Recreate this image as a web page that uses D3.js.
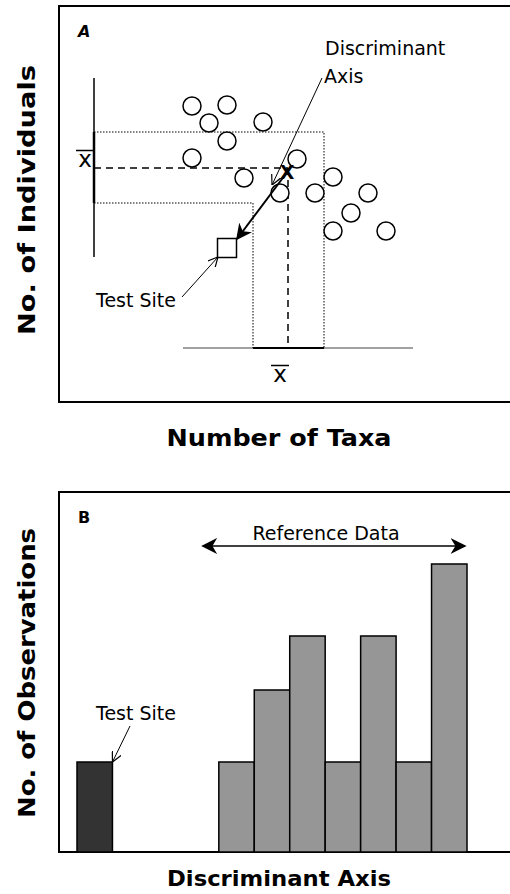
<!DOCTYPE html>
<html>
<head>
<meta charset="utf-8">
<script src="https://cdn.jsdelivr.net/npm/d3@7"></script>
<style>
  body { margin: 0; background: #fff; }
  svg text { font-family: "Comic Sans MS", "DejaVu Sans", sans-serif; }
</style>
</head>
<body>
<svg width="510" height="894"></svg>
<script>
// Panel A: sites (taxa, individuals), arbitrary units
const siteTaxa = [13.3, 16.8, 15.0, 20.4, 16.8, 13.3, 23.8, 18.5, 27.4, 22.1, 25.6, 30.9, 29.2, 27.4, 32.7];
const siteInd  = [29.6, 29.7, 27.9, 28.0, 26.1, 24.4, 24.3, 22.4, 22.5, 20.9, 20.9, 20.9, 18.9, 17.1, 17.1];
const meanTaxa = 22.9, meanInd = 23.4;
const taxaBand = [19.4, 26.5], indBand = [19.9, 27.0];
const testTaxa = 16.8, testInd = 15.4;

// Panel B: histogram along discriminant axis
const bins = ["b0","b1","b2","b3","b4","b5","b6","b7","b8","b9","b10"];
const testCounts = [5, 0, 0, 0, 0, 0, 0, 0, 0, 0, 0];
const refCounts  = [0, 0, 0, 0, 5, 9, 12, 5, 12, 5, 16];

window.onload = () => {
  const svg = d3.select("svg");

  const defs = svg.append("defs");
  defs.append("marker").attr("id", "open")
    .attr("viewBox", "0 0 10 10").attr("refX", 10).attr("refY", 5)
    .attr("markerWidth", 10).attr("markerHeight", 10).attr("markerUnits", "userSpaceOnUse")
    .attr("orient", "auto")
    .append("path").attr("d", "M0,0 L10,5 L0,10").attr("fill", "none").attr("stroke", "#000").attr("stroke-width", 1.2);
  defs.append("marker").attr("id", "solid")
    .attr("viewBox", "0 0 10 10").attr("refX", 9).attr("refY", 5)
    .attr("markerWidth", 16).attr("markerHeight", 16).attr("markerUnits", "userSpaceOnUse")
    .attr("orient", "auto")
    .append("path").attr("d", "M0,0 L10,5 L0,10 L3,5 Z").attr("fill", "#000");
  defs.append("marker").attr("id", "solidRev")
    .attr("viewBox", "0 0 10 10").attr("refX", 1).attr("refY", 5)
    .attr("markerWidth", 16).attr("markerHeight", 16).attr("markerUnits", "userSpaceOnUse")
    .attr("orient", "auto")
    .append("path").attr("d", "M10,0 L0,5 L10,10 L7,5 Z").attr("fill", "#000");

  // ---------- Panel A ----------
  const xA = d3.scaleLinear().domain([0, 45]).range([59, 509]);
  const yA = d3.scaleLinear().domain([0, 39.6]).range([402, 6]);
  const gA = svg.append("g");

  gA.append("rect").attr("x", 59).attr("y", 6).attr("width", 480).attr("height", 396)
    .attr("fill", "none").attr("stroke", "#000").attr("stroke-width", 2);
  gA.append("text").attr("x", 78).attr("y", 37).text("A")
    .attr("font-weight", "bold").attr("font-style", "italic").attr("font-size", 16);

  // axes
  gA.append("line").attr("x1", xA(3.5)).attr("x2", xA(3.5)).attr("y1", yA(32.4)).attr("y2", yA(14.5))
    .attr("stroke", "#000").attr("stroke-width", 1.5);
  gA.append("line").attr("x1", xA(3.5)).attr("x2", xA(3.5)).attr("y1", yA(indBand[1])).attr("y2", yA(indBand[0]))
    .attr("stroke", "#000").attr("stroke-width", 2.5);
  gA.append("line").attr("x1", xA(12.4)).attr("x2", xA(35.4)).attr("y1", yA(5.4)).attr("y2", yA(5.4))
    .attr("stroke", "#444").attr("stroke-width", 1.2);
  gA.append("line").attr("x1", xA(taxaBand[0])).attr("x2", xA(taxaBand[1])).attr("y1", yA(5.4)).attr("y2", yA(5.4))
    .attr("stroke", "#000").attr("stroke-width", 2.2);

  // dotted L-shaped band
  const lpath = d3.path();
  lpath.moveTo(xA(3.5), yA(indBand[1]));
  lpath.lineTo(xA(taxaBand[1]), yA(indBand[1]));
  lpath.lineTo(xA(taxaBand[1]), yA(5.4));
  lpath.moveTo(xA(3.5), yA(indBand[0]));
  lpath.lineTo(xA(taxaBand[0]), yA(indBand[0]));
  lpath.lineTo(xA(taxaBand[0]), yA(5.4));
  gA.append("path").attr("d", lpath.toString()).attr("fill", "none")
    .attr("stroke", "#000").attr("stroke-width", 1).attr("stroke-dasharray", "1.5,1.5");

  // mean dashed lines
  gA.append("line").attr("x1", xA(3.5)).attr("x2", xA(meanTaxa)).attr("y1", yA(meanInd)).attr("y2", yA(meanInd))
    .attr("stroke", "#000").attr("stroke-width", 1.5).attr("stroke-dasharray", "7,5");
  gA.append("line").attr("x1", xA(meanTaxa)).attr("x2", xA(meanTaxa)).attr("y1", yA(meanInd)).attr("y2", yA(5.4))
    .attr("stroke", "#000").attr("stroke-width", 1.5).attr("stroke-dasharray", "7,5");

  // x-bar labels
  const xbar = (x, y) => {
    gA.append("text").attr("x", x).attr("y", y).attr("text-anchor", "middle")
      .attr("font-size", 23).text("x");
    gA.append("line").attr("x1", x - 9).attr("x2", x + 9).attr("y1", y - 16.5).attr("y2", y - 16.5)
      .attr("stroke", "#000").attr("stroke-width", 1.5);
  };
  xbar(xA(2.6), yA(23.5));
  xbar(xA(22.1), yA(2.0));

  // sites
  gA.selectAll("circle.site").data(siteTaxa).enter().append("circle")
    .attr("class", "site")
    .attr("cx", d => xA(d)).attr("cy", (d, i) => yA(siteInd[i])).attr("r", 9)
    .attr("fill", "#fff").attr("stroke", "#000").attr("stroke-width", 1.5);

  // test site square
  gA.append("rect").attr("x", xA(testTaxa) - 9.5).attr("y", yA(testInd) - 9.5)
    .attr("width", 19).attr("height", 19).attr("fill", "#fff").attr("stroke", "#000").attr("stroke-width", 1.5);

  // discriminant axis pointer
  gA.append("line").attr("x1", xA(26.3)).attr("y1", yA(32.4)).attr("x2", xA(21.3)).attr("y2", yA(21.7))
    .attr("stroke", "#000").attr("stroke-width", 1).attr("marker-end", "url(#open)");
  gA.append("text").attr("x", 325).attr("y", 55).attr("font-size", 19).text("Discriminant");
  gA.append("text").attr("x", 324).attr("y", 83).attr("font-size", 19).text("Axis");

  // thick arrow from centroid to test site
  gA.append("line").attr("x1", xA(meanTaxa)).attr("y1", yA(meanInd) + 3)
    .attr("x2", xA(testTaxa) + 10).attr("y2", yA(testInd) - 9)
    .attr("stroke", "#000").attr("stroke-width", 2).attr("marker-end", "url(#solid)");
  gA.append("text").attr("x", xA(meanTaxa) - 1).attr("y", yA(meanInd) + 11).attr("text-anchor", "middle")
    .attr("font-size", 19).attr("font-weight", "bold").text("X");

  // test site label
  gA.append("text").attr("x", 96).attr("y", 307).attr("font-size", 19).text("Test Site");
  gA.append("line").attr("x1", 182).attr("y1", 297).attr("x2", xA(testTaxa) - 9).attr("y2", yA(testInd) + 9)
    .attr("stroke", "#000").attr("stroke-width", 1).attr("marker-end", "url(#open)");

  gA.append("text").attr("transform", "translate(35,200) rotate(-90)").attr("text-anchor", "middle")
    .attr("font-size", 23).attr("font-weight", "bold")
    .attr("textLength", 270).attr("lengthAdjust", "spacingAndGlyphs").text("No. of Individuals");
  gA.append("text").attr("x", 279).attr("y", 446).attr("text-anchor", "middle")
    .attr("font-size", 23).attr("font-weight", "bold")
    .attr("textLength", 225).attr("lengthAdjust", "spacingAndGlyphs").text("Number of Taxa");

  // ---------- Panel B ----------
  const xB = d3.scaleBand().domain(bins).range([77, 467]).paddingInner(0);
  const yB = d3.scaleLinear().domain([0, 20]).range([852, 492]);
  const gB = svg.append("g");

  gB.append("rect").attr("x", 59).attr("y", 492).attr("width", 480).attr("height", 360)
    .attr("fill", "none").attr("stroke", "#000").attr("stroke-width", 2);
  gB.append("text").attr("x", 78).attr("y", 523).text("B")
    .attr("font-weight", "bold").attr("font-size", 16);

  gB.selectAll("rect.ref").data(bins.filter((b, i) => refCounts[i] > 0)).enter().append("rect")
    .attr("class", "ref")
    .attr("x", d => xB(d)).attr("width", xB.bandwidth())
    .attr("y", d => yB(refCounts[bins.indexOf(d)]))
    .attr("height", d => yB(0) - yB(refCounts[bins.indexOf(d)]))
    .attr("fill", "#969696").attr("stroke", "#000").attr("stroke-width", 1.5);
  gB.selectAll("rect.test").data(bins.filter((b, i) => testCounts[i] > 0)).enter().append("rect")
    .attr("class", "test")
    .attr("x", d => xB(d)).attr("width", xB.bandwidth())
    .attr("y", d => yB(testCounts[bins.indexOf(d)]))
    .attr("height", d => yB(0) - yB(testCounts[bins.indexOf(d)]))
    .attr("fill", "#333333").attr("stroke", "#000").attr("stroke-width", 1.5);

  // reference data span
  const refStart = xB("b4"), refEnd = xB("b10") + xB.bandwidth();
  gB.append("line").attr("x1", refStart - 16).attr("x2", refEnd - 2).attr("y1", yB(17)).attr("y2", yB(17))
    .attr("stroke", "#000").attr("stroke-width", 1.5)
    .attr("marker-start", "url(#solidRev)").attr("marker-end", "url(#solid)");
  gB.append("text").attr("x", 326).attr("y", yB(17) - 6).attr("text-anchor", "middle")
    .attr("font-size", 19).text("Reference Data");

  // test site label
  gB.append("text").attr("x", 96).attr("y", 720).attr("font-size", 19).text("Test Site");
  gB.append("line").attr("x1", 130).attr("y1", 726).attr("x2", xB("b0") + xB.bandwidth()).attr("y2", yB(testCounts[0]))
    .attr("stroke", "#000").attr("stroke-width", 1).attr("marker-end", "url(#open)");

  gB.append("text").attr("transform", "translate(35,673) rotate(-90)").attr("text-anchor", "middle")
    .attr("font-size", 23).attr("font-weight", "bold")
    .attr("textLength", 290).attr("lengthAdjust", "spacingAndGlyphs").text("No. of Observations");
  gB.append("text").attr("x", 279).attr("y", 886).attr("text-anchor", "middle")
    .attr("font-size", 21).attr("font-weight", "bold")
    .attr("textLength", 224).attr("lengthAdjust", "spacingAndGlyphs").text("Discriminant Axis");
};
</script>
</body>
</html>
